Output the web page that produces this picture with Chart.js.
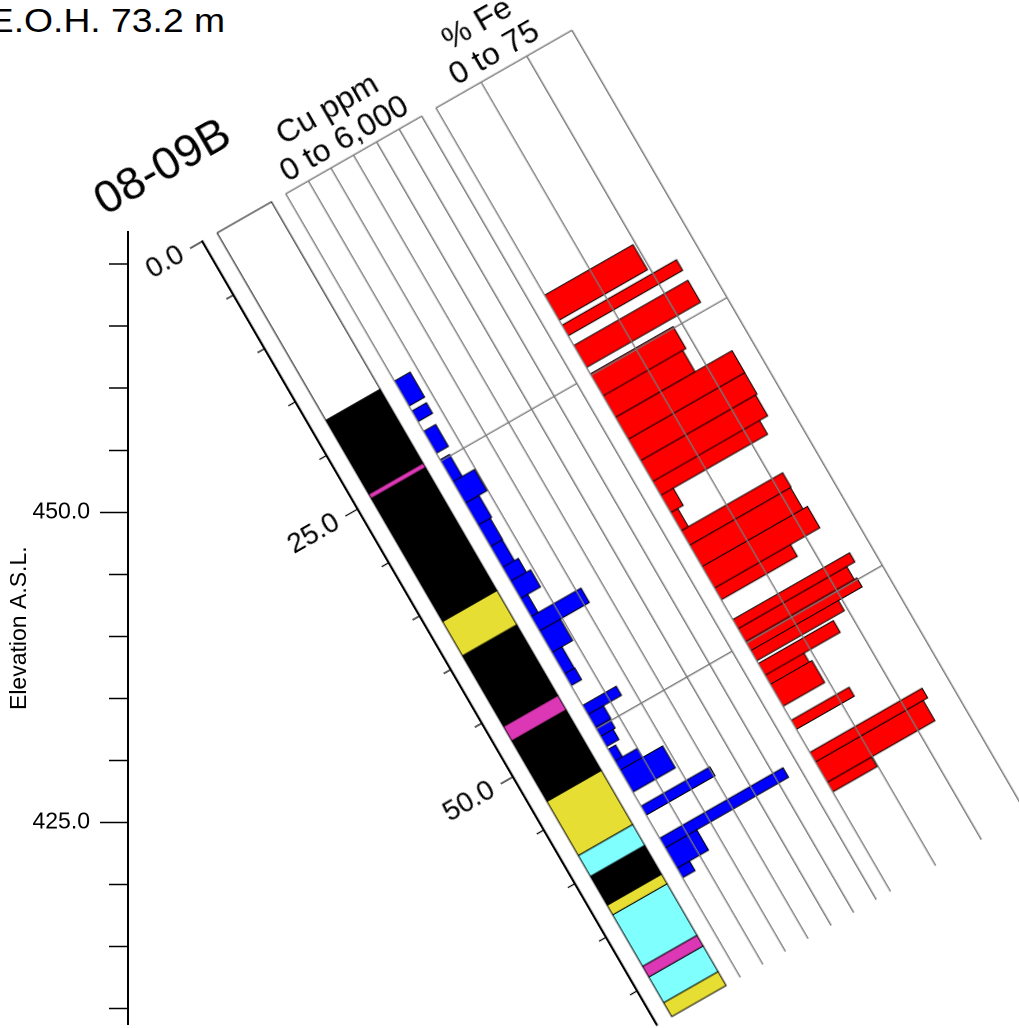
<!DOCTYPE html>
<html>
<head>
<meta charset="utf-8">
<title>08-09B strip log</title>
<script src="https://cdn.jsdelivr.net/npm/chart.js@4.4.1/dist/chart.umd.min.js"></script>
<style>
  html, body { margin: 0; padding: 0; background: #fff; }
  body { width: 1019px; height: 1028px; overflow: hidden; position: relative;
         font-family: "Liberation Sans", Arial, sans-serif; color: #000; }
  #eoh { position: absolute; right: 794px; top: 4px; font-size: 33px; line-height: 33px; white-space: nowrap;
         transform: scaleX(1.13); transform-origin: 100% 0; }
  #elev { position: absolute; left: 0; top: 202px; }
  /* hole frame: x across the log, y down the hole, rotated to the hole dip */
  #log { position: absolute; left: 0; top: 0; width: 1px; height: 1px; transform-origin: 0 0;
         transform: matrix(0.8682, -0.4963, 0.5018, 0.8650, 202.7, 242.3); }
  #log canvas { position: absolute; }
  .hdr { position: absolute; text-align: center; white-space: nowrap; }
</style>
</head>
<body>
<div id="eoh">E.O.H. 73.2 m</div>
<canvas id="elev" width="140" height="853"></canvas>
<div id="log">
  <div class="hdr" style="left:-147px;top:-112px;width:300px;font-size:46px;line-height:50px;">08-09B</div>
  <div class="hdr" style="left:96.1px;top:-72px;width:156.7px;font-size:32px;line-height:34px;">Cu ppm<br>0 to 6,000</div>
  <div class="hdr" style="left:268.7px;top:-72px;width:156.7px;font-size:32px;line-height:34px;">% Fe<br>0 to 75</div>
  <canvas id="lith" width="184" height="967" style="left:-100px;top:-31px;"></canvas>
  <canvas id="cu" width="163" height="913" style="left:93.1px;top:-4px;"></canvas>
  <canvas id="fe" width="163" height="913" style="left:265.7px;top:-4px;"></canvas>
</div>

<script>
// Elevation axis (m A.S.L.)
const elevMax = 472.6;
const elevMin = 408.7;
const elevStep = 5;
const elevLabelEvery = 25;

// Down-hole depth (m)
const holeDepth = 73.2;
const depthStep = 5;
const depthLabelEvery = 25;

// Lithology intervals
const lithFrom = [0, 17.5, 24.4, 24.8, 36.3, 39.5, 46.1, 47.45, 53.1, 58.15, 60.1, 62.8, 63.7, 68.5, 69.5, 71.9];
const lithTo = [17.5, 24.4, 24.8, 36.3, 39.5, 46.1, 47.45, 53.1, 58.15, 60.1, 62.8, 63.7, 68.5, 69.5, 71.9, 73.2];
const lithCode = ['W', 'K', 'M', 'K', 'Y', 'K', 'M', 'K', 'Y', 'C', 'K', 'Y', 'C', 'M', 'C', 'Y'];

// Assay sample intervals
const sampleFrom = [17.5, 20.3, 22.2, 24.85, 26.9, 28.9, 30.95, 32.95, 34.9, 36.2, 37.8, 39.5, 40.85,
  42.85, 44.85, 47.8, 48.65, 49.85, 50.7, 51.9, 53.0, 53.85, 57.2, 60.2, 61.1, 63.0];
const sampleTo = [19.85, 21.3, 24.25, 26.9, 28.9, 30.95, 32.95, 34.9, 36.2, 37.8, 39.5, 40.85, 42.85,
  44.85, 45.95, 48.65, 49.85, 50.7, 51.65, 53.0, 53.85, 55.9, 58.05, 61.1, 63.0, 63.9];
const cuPpm = [700, 650, 540, 420, 960, 610, 545, 530, 705, 890, 320, 2210, 925,
  450, 470, 1490, 690, 650, 560, 340, 1000, 1880, 3045, 5450, 1400, 560];
const fePct = [48.8, 63.2, 63.0, 45.8, 44.0, 64.4, 64.3, 63.5, 59.0, 7.0, 4.0, 56.0, 55.7,
  58.2, 42.0, 64.5, 60.0, 61.5, 48.4, 41.5, 21.5, 23.0, 32.0, 62.0, 59.5, 24.5];

const cuMax = 6000;
const cuStep = 1000;
const feMax = 75;
const feStep = 25;

// styles
const lithColours = { W: '#ffffff', K: '#000000', M: '#dc37b4', Y: '#e6de33', C: '#80ffff' };
const gridGrey = '#777777';

Chart.defaults.font.family = '"Liberation Sans", Arial, sans-serif';
Chart.defaults.color = '#000';

function boxSets(from, to, width, colourOf) {
  return from.map((top, i) => ({
    data: [
      { x: 0, y: top }, { x: width(i), y: top },
      { x: width(i), y: to[i] }, { x: 0, y: to[i] }, { x: 0, y: top }
    ],
    showLine: true,
    fill: 'shape',
    backgroundColor: colourOf(i),
    borderColor: '#000',
    borderWidth: 1,
    borderJoinStyle: 'miter',
    pointRadius: 0,
    pointHoverRadius: 0,
    tension: 0,
    clip: 4
  }));
}

function baseOptions(padding) {
  return {
    responsive: false,
    devicePixelRatio: 2,
    animation: false,
    events: [],
    layout: { padding },
    plugins: { legend: { display: false }, tooltip: { enabled: false } }
  };
}

// Elevation axis
new Chart(document.getElementById('elev'), {
  type: 'scatter',
  data: { datasets: [] },
  options: {
    ...baseOptions({ left: 0, right: 2, top: 30, bottom: 30.6 }),
    scales: {
      x: { display: false, min: 0, max: 1 },
      y: {
        min: elevMin, max: elevMax,
        afterFit: (s) => { s.width = 128; },
        border: { color: '#000', width: 2 },
        grid: {
          drawOnChartArea: false, tickLength: 28, tickColor: '#000', tickWidth: 1.5,
          tickBorderDash: (c) => (c.tick && c.tick.value % elevLabelEvery === 0) ? [] : [0, 9, 19, 60]
        },
        ticks: {
          stepSize: elevStep, includeBounds: false, autoSkip: false, padding: 10,
          font: { size: 23 }, color: '#000',
          callback: (v) => v % elevLabelEvery === 0 ? v.toFixed(1) : ''
        },
        title: { display: true, text: 'Elevation A.S.L.', font: { size: 23 }, color: '#000', padding: { top: 6, bottom: 0 } }
      }
    }
  }
});

// Depth axis + lithology column
new Chart(document.getElementById('lith'), {
  type: 'scatter',
  data: { datasets: boxSets(lithFrom, lithTo, () => 1, (i) => lithColours[lithCode[i]]) },
  options: {
    ...baseOptions({ left: 0, right: 4.2, top: 30, bottom: 31 }),
    scales: {
      x: { display: false, min: -17.1 / 62.7, max: 1 },
      y: {
        reverse: true, min: 0, max: holeDepth,
        afterFit: (s) => { s.width = 100; },
        border: { color: '#000', width: 2.2 },
        grid: {
          drawOnChartArea: false, tickLength: 14, tickColor: '#000', tickWidth: 1.2,
          tickBorderDash: (c) => (c.tick && c.tick.value % depthLabelEvery === 0) ? [] : [0, 6, 8, 40]
        },
        ticks: {
          stepSize: depthStep, includeBounds: false, autoSkip: false, padding: 9,
          font: { size: 28 }, color: '#000',
          callback: (v) => v % depthLabelEvery === 0 ? v.toFixed(1) : ''
        }
      }
    }
  }
});

// Assay panels
function assayChart(id, values, max, step, colour) {
  return new Chart(document.getElementById(id), {
    type: 'scatter',
    data: { datasets: boxSets(sampleFrom, sampleTo, (i) => values[i], () => colour) },
    options: {
      ...baseOptions({ left: 3, right: 3.3, top: 3, bottom: 4 }),
      scales: {
        x: {
          min: 0, max,
          ticks: { display: false, stepSize: step },
          grid: { color: gridGrey, lineWidth: 1.4, drawTicks: false, z: 1 },
          border: { display: false }
        },
        y: {
          reverse: true, min: 0, max: holeDepth,
          ticks: { display: false, stepSize: depthLabelEvery, includeBounds: false },
          grid: { color: gridGrey, lineWidth: 1.4, drawTicks: false, z: 1 },
          border: { display: false }
        }
      }
    }
  });
}

assayChart('cu', cuPpm, cuMax, cuStep, '#0000ff');
assayChart('fe', fePct, feMax, feStep, '#ff0000');
</script>
</body>
</html>
